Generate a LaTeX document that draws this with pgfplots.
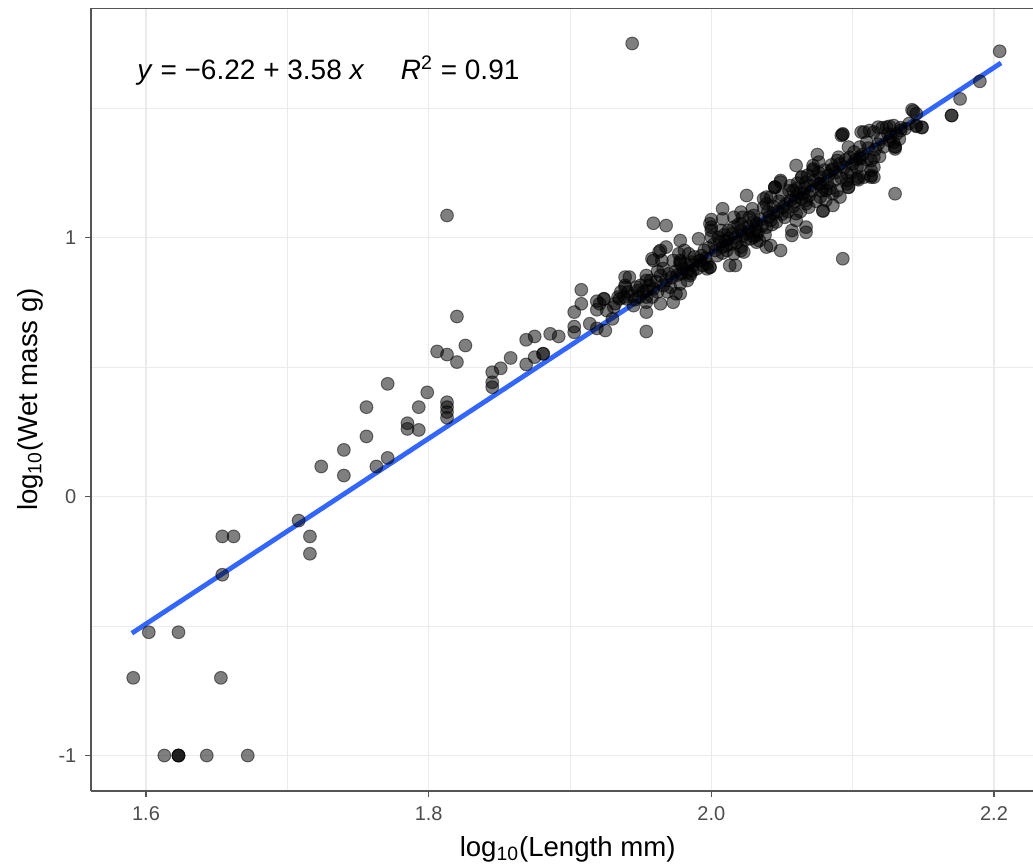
\documentclass[border=0pt]{standalone}
\usepackage{pgfplots}
\pgfplotsset{compat=1.18}
\usepackage{fontspec}
\setmainfont{Liberation Sans}
\definecolor{gridc}{HTML}{EBEBEB}
\definecolor{ticklab}{HTML}{4D4D4D}
\definecolor{fitblue}{HTML}{3366FF}
\definecolor{frame}{HTML}{555555}
\begin{document}
\begin{tikzpicture}
\begin{axis}[
  scale only axis,
  width=471pt, height=391.5pt,
  xmin=1.5611, xmax=2.2276,
  ymin=-1.137, ymax=1.886,
  separate axis lines,
  axis x line*=bottom, axis y line*=left,
  axis line style={frame, line width=0.7pt},
  xtick={1.6,1.8,2.0,2.2}, xticklabels={1.6,1.8,2.0,2.2},
  ytick={-1,0,1}, yticklabels={-1,0,1},
  minor xtick={1.7,1.9,2.1}, minor ytick={-0.5,0.5,1.5},
  grid=both,
  major grid style={gridc, line width=0.8pt},
  minor grid style={gridc, line width=0.45pt},
  tick align=outside, major tick length=2.8pt, minor tick length=0pt,
  tick style={color=frame, line width=0.7pt},
  ticklabel style={font=\fontsize{10}{12}\selectfont, text=ticklab},
  xticklabel style={yshift=-1.5pt},
  yticklabel style={xshift=-1pt},
  xlabel={log\textsubscript{10}(Length mm)},
  ylabel={log\textsubscript{10}(Wet mass g)},
  label style={font=\fontsize{13.8}{16}\selectfont},
  xlabel style={at={(rel axis cs:0.506,0)}, anchor=center, yshift=-29pt},
  ylabel style={at={(rel axis cs:0,0.5)}, anchor=center, yshift=30.5pt},
]
\addplot[only marks, mark=*, mark size=3.2pt,
  mark options={draw=black, fill=black, opacity=0.5, line width=0.5pt}]
  table[row sep=\\]{
x y\\
1.591 -0.700\\ 1.602 -0.524\\ 1.623 -0.524\\ 1.653 -0.700\\ 1.654 -0.302\\
1.654 -0.154\\ 1.662 -0.154\\ 1.613 -1.000\\ 1.623 -1.000\\ 1.623 -1.000\\
1.623 -1.000\\ 1.643 -1.000\\ 1.672 -1.000\\ 1.708 -0.093\\ 1.716 -0.154\\
1.716 -0.221\\
1.724 0.116\\ 1.740 0.081\\ 1.740 0.180\\ 1.756 0.232\\ 1.756 0.345\\
1.763 0.116\\ 1.771 0.149\\ 1.771 0.435\\ 1.785 0.283\\ 1.785 0.261\\
1.793 0.345\\ 1.793 0.257\\ 1.799 0.402\\ 1.813 0.364\\ 1.813 0.345\\
1.813 0.326\\ 1.813 0.304\\ 1.813 1.085\\ 1.806 0.560\\ 1.813 0.548\\
1.820 0.519\\ 1.820 0.695\\ 1.826 0.583\\ 1.845 0.480\\ 1.845 0.441\\
1.845 0.422\\ 1.851 0.495\\ 1.858 0.535\\ 1.869 0.605\\ 1.875 0.618\\
1.869 0.510\\ 1.875 0.538\\ 1.881 0.551\\ 1.881 0.551\\ 1.886 0.628\\
1.892 0.618\\ 1.903 0.712\\ 1.908 0.744\\ 1.908 0.798\\ 1.903 0.656\\
1.903 0.634\\ 1.914 0.667\\ 1.919 0.721\\ 1.919 0.754\\ 1.924 0.763\\
1.924 0.763\\ 1.919 0.649\\ 1.925 0.641\\
1.944 1.749\\ 1.959 1.055\\ 1.968 1.046\\ 1.954 0.637\\ 2.093 0.918\\
2.130 1.169\\ 2.025 1.162\\ 2.060 1.278\\ 2.049 0.950\\
2.204 1.719\\ 2.190 1.603\\ 2.176 1.535\\ 2.170 1.471\\ 2.170 1.471\\
2.143 1.488\\ 2.145 1.429\\ 2.149 1.424\\ 2.093 1.397\\ 2.108 1.407\\
2.115 1.407\\ 2.121 1.424\\ 2.126 1.429\\ 2.134 1.424\\ 2.130 1.351\\
2.130 1.342\\ 2.126 1.375\\ 2.113 1.239\\ 2.104 1.223\\ 2.079 1.102\\
1.930 0.686\\ 1.934 0.770\\ 1.938 0.770\\ 1.940 0.763\\ 1.939 0.847\\
1.939 0.815\\ 1.945 0.737\\ 1.948 0.795\\ 1.954 0.853\\ 1.954 0.834\\
1.954 0.770\\ 1.954 0.712\\ 1.958 0.918\\ 1.959 0.802\\ 1.964 0.853\\
1.964 0.744\\ 1.964 0.950\\ 1.968 0.963\\ 1.973 0.750\\ 1.978 0.988\\
1.978 0.783\\ 1.978 0.911\\ 1.978 0.898\\ 1.981 0.950\\ 1.984 0.937\\
1.985 0.853\\ 1.987 0.873\\ 1.991 0.995\\ 1.992 0.911\\ 1.997 0.898\\
1.999 0.885\\ 2.000 1.069\\ 2.000 1.040\\ 2.000 1.002\\ 2.008 1.111\\
2.008 1.072\\ 2.007 1.027\\ 2.012 1.027\\ 2.013 0.892\\ 2.017 0.892\\
2.011 0.950\\ 2.016 0.937\\ 2.021 0.950\\ 2.021 1.098\\ 2.022 1.078\\
2.016 1.040\\ 2.021 1.027\\ 2.025 1.014\\ 2.029 1.111\\ 2.030 1.085\\
2.032 1.008\\ 2.034 0.988\\ 2.037 1.149\\ 2.039 1.130\\ 2.039 1.040\\
2.042 1.066\\ 2.044 1.092\\ 2.042 0.969\\ 2.045 1.194\\ 2.049 1.214\\
2.051 1.117\\ 2.052 1.078\\ 2.057 1.008\\ 2.057 1.027\\ 2.060 1.188\\
2.060 1.156\\ 2.060 1.092\\ 2.060 1.066\\ 2.064 1.233\\ 2.067 1.214\\
2.067 1.143\\ 2.069 1.117\\ 2.067 1.040\\ 2.067 1.020\\ 2.072 1.278\\
2.072 1.259\\ 2.077 1.207\\ 2.079 1.194\\ 2.077 1.156\\ 2.079 1.104\\
2.086 1.169\\ 2.086 1.124\\ 2.086 1.265\\ 2.091 1.284\\ 2.096 1.220\\
2.097 1.194\\ 2.100 1.284\\ 2.105 1.304\\ 2.104 1.233\\ 2.113 1.297\\
2.115 1.271\\ 2.113 1.233\\
2.142 1.493\\ 2.145 1.478\\ 2.145 1.432\\ 2.149 1.426\\ 2.093 1.400\\
2.106 1.407\\ 2.112 1.413\\ 2.118 1.426\\ 2.124 1.426\\ 2.129 1.432\\
2.134 1.413\\ 2.129 1.368\\ 2.130 1.349\\ 2.119 1.313\\ 2.115 1.310\\
2.110 1.368\\ 2.105 1.349\\ 2.105 1.310\\ 2.097 1.349\\ 2.098 1.310\\
2.113 1.259\\ 2.115 1.233\\ 2.103 1.271\\ 2.103 1.227\\ 2.096 1.246\\
2.096 1.207\\ 2.089 1.297\\ 2.085 1.259\\ 2.092 1.394\\ 2.075 1.320\\
2.076 1.291\\ 2.072 1.265\\ 2.077 1.233\\ 2.076 1.207\\ 2.064 1.233\\
2.049 1.220\\ 2.045 1.194\\ 2.081 1.181\\ 2.081 1.143\\ 2.089 1.181\\
2.091 1.156\\ 2.097 1.194\\ 2.108 1.233\\ 2.065 1.169\\ 2.067 1.130\\
2.058 1.181\\ 2.056 1.143\\ 2.039 1.156\\ 2.037 1.117\\
1.999 1.053\\ 2.000 1.027\\ 2.042 1.156\\ 2.045 1.194\\ 1.963 0.944\\
1.965 0.911\\ 1.959 0.911\\ 1.973 0.911\\ 1.977 0.937\\ 1.978 0.905\\
1.980 0.879\\ 1.983 0.866\\ 1.987 0.892\\ 1.992 0.911\\ 1.994 0.892\\
1.997 0.879\\ 1.999 0.885\\ 2.010 0.988\\ 2.011 0.969\\ 2.021 0.963\\
2.023 0.944\\ 2.030 1.002\\ 2.032 0.982\\ 2.039 0.963\\ 2.016 1.078\\
2.021 1.053\\ 2.027 1.078\\ 2.032 1.053\\ 1.942 0.847\\ 1.947 0.808\\
1.939 0.808\\ 1.935 0.763\\ 1.954 0.795\\ 1.957 0.834\\ 1.949 0.770\\
1.954 0.750\\ 1.968 0.834\\ 1.971 0.808\\ 1.975 0.783\\ 1.978 0.821\\
1.983 0.834\\ 1.985 0.860\\ 1.926 0.718\\ 1.931 0.731\\ 1.921 0.744\\
2.008 0.963\\
1.962 0.870\\ 1.966 0.880\\ 1.970 0.860\\ 1.972 0.845\\ 1.975 0.870\\
1.976 0.855\\ 1.979 0.860\\ 1.982 0.900\\ 1.986 0.905\\ 1.988 0.925\\
1.990 0.880\\ 1.993 0.930\\ 1.995 0.950\\ 1.996 0.920\\ 1.998 0.960\\
2.002 0.975\\ 2.003 0.950\\ 2.004 0.930\\ 2.005 1.000\\ 2.006 0.985\\
2.008 0.940\\ 2.009 1.010\\ 2.012 0.995\\ 2.014 0.975\\ 2.015 1.015\\
2.017 1.000\\ 2.018 0.980\\ 2.019 1.050\\ 2.022 1.005\\ 2.024 0.990\\
2.026 1.040\\ 2.027 1.025\\ 2.028 0.995\\ 2.030 1.060\\ 2.031 1.030\\
2.033 1.020\\ 2.035 1.070\\ 2.036 1.045\\ 2.038 1.010\\ 2.040 1.100\\
2.041 1.080\\ 2.043 1.050\\ 2.044 1.120\\ 2.046 1.060\\ 2.047 1.100\\
2.048 1.140\\ 2.050 1.090\\ 2.050 1.165\\ 2.053 1.130\\ 2.054 1.100\\
2.055 1.180\\ 2.056 1.200\\ 2.058 1.120\\ 2.059 1.140\\ 2.061 1.210\\
2.062 1.170\\ 2.063 1.100\\ 2.064 1.150\\ 2.066 1.190\\ 2.068 1.240\\
2.069 1.160\\ 2.070 1.200\\ 2.071 1.180\\ 2.073 1.220\\ 2.074 1.140\\
2.076 1.250\\ 2.078 1.180\\ 2.080 1.260\\ 2.082 1.210\\ 2.083 1.240\\
2.084 1.190\\ 2.085 1.280\\ 2.087 1.220\\ 2.088 1.250\\ 2.090 1.310\\
2.092 1.230\\ 2.094 1.270\\ 2.095 1.300\\ 2.099 1.250\\ 2.101 1.330\\
2.102 1.300\\ 2.106 1.280\\ 2.107 1.320\\ 2.110 1.300\\ 2.111 1.345\\
2.116 1.340\\ 2.118 1.360\\ 2.120 1.380\\ 2.122 1.350\\ 2.125 1.400\\
2.127 1.390\\ 2.131 1.400\\ 2.133 1.380\\ 2.137 1.420\\ 2.140 1.440\\
1.932 0.745\\ 1.936 0.790\\ 1.941 0.790\\ 1.944 0.775\\ 1.946 0.760\\
1.950 0.815\\ 1.952 0.790\\ 1.956 0.815\\ 1.958 0.770\\ 1.961 0.830\\
1.962 0.790\\ 1.966 0.815\\ 1.969 0.790\\
};
\addplot[fitblue, line width=2.4pt] coordinates {(1.590,-0.5278) (2.205,1.6739)};
\draw[frame, line width=0.7pt] (rel axis cs:0,1) -- (rel axis cs:1,1);
\node[anchor=west, font=\fontsize{14}{16}\selectfont, inner sep=0pt] at (axis cs:1.5936,1.645)
  {\textit{y} = −6.22 + 3.58 \textit{x}\hspace{1.3em}\textit{R}\textsuperscript{2} = 0.91};
\end{axis}
\pgfresetboundingbox
\path ([xshift=-45.5pt,yshift=-37pt]current axis.south west) rectangle ([yshift=4pt]current axis.north east);
\end{tikzpicture}
\end{document}
